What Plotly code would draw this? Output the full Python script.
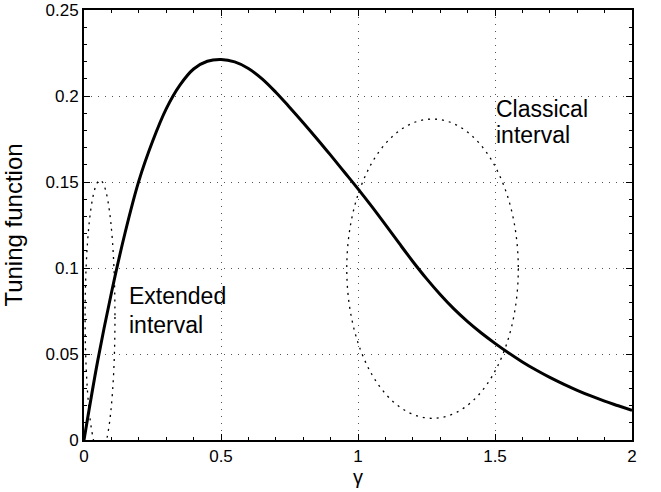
import plotly.graph_objects as go

# Tuning function curve
gamma = [0.00, 0.05, 0.10, 0.15, 0.20, 0.25, 0.30, 0.35, 0.40, 0.45,
         0.50, 0.55, 0.60, 0.65, 0.70, 0.75, 0.80, 0.85, 0.90, 0.95,
         1.00, 1.05, 1.10, 1.15, 1.20, 1.25, 1.30, 1.35, 1.40, 1.45,
         1.50, 1.55, 1.60, 1.65, 1.70, 1.75, 1.80, 1.85, 1.90, 1.95, 2.00]
tuning = [0.0000, 0.0460, 0.0855, 0.1205, 0.1505, 0.1735, 0.1925, 0.2063, 0.2157, 0.2202,
          0.2212, 0.2198, 0.2160, 0.2100, 0.2022, 0.1935, 0.1845, 0.1752, 0.1656, 0.1558,
          0.1460, 0.1358, 0.1252, 0.1144, 0.1038, 0.0938, 0.0846, 0.0762, 0.0688, 0.0622,
          0.0562, 0.0506, 0.0454, 0.0407, 0.0364, 0.0325, 0.0289, 0.0256, 0.0226, 0.0199, 0.0172]

# Ellipses marking intervals: [x0, x1, y0, y1]
extended_ellipse = [0.004, 0.113, -0.008, 0.151]
classical_ellipse = [0.959, 1.585, 0.0126, 0.1866]

x_ticks = [0, 0.5, 1, 1.5, 2]
x_tick_labels = ["0", "0.5", "1", "1.5", "2"]
y_ticks = [0, 0.05, 0.1, 0.15, 0.2, 0.25]
y_tick_labels = ["0", "0.05", "0.1", "0.15", "0.2", "0.25"]

FONT = "Liberation Sans, Arial, Helvetica, sans-serif"

fig = go.Figure()
fig.add_trace(go.Scatter(
    x=gamma, y=tuning, mode="lines",
    line=dict(color="black", width=3, shape="spline", smoothing=1.0),
    showlegend=False, hoverinfo="skip"))

for e in (extended_ellipse, classical_ellipse):
    fig.add_shape(type="circle", xref="x", yref="y",
                  x0=e[0], x1=e[1], y0=e[2], y1=e[3],
                  line=dict(color="black", width=1.3, dash="2px,5px"))

annots = [
    ("Extended", 0.158, 0.0837),
    ("interval", 0.158, 0.0669),
    ("Classical", 1.495, 0.1924),
    ("interval", 1.495, 0.1773),
]
for txt, ax_, ay_ in annots:
    fig.add_annotation(x=ax_, y=ay_, xref="x", yref="y", text=txt,
                       showarrow=False, xanchor="left", yanchor="middle",
                       font=dict(family=FONT, size=23, color="black"))

axis_common = dict(
    showline=True, linecolor="black", linewidth=2, mirror="ticks",
    ticks="inside", ticklen=6, tickcolor="black", tickwidth=1,
    showgrid=True, gridcolor="#555555", gridwidth=1, griddash="1px,6px",
    zeroline=False, automargin=False,
    tickfont=dict(family=FONT, size=17, color="black"),
    minor=dict(ticks="inside", ticklen=3, tickcolor="black", showgrid=False),
)

fig.update_xaxes(range=[0, 2], tickvals=x_ticks, ticktext=x_tick_labels,
                 title=dict(text="γ", font=dict(family=FONT, size=20, color="black"),
                            standoff=3),
                 **axis_common)
fig.update_yaxes(range=[0, 0.25], tickvals=y_ticks, ticktext=y_tick_labels,
                 title=dict(text="Tuning function",
                            font=dict(family=FONT, size=24, color="black"),
                            standoff=20),
                 **axis_common)
fig.update_xaxes(minor_dtick=0.1)
fig.update_yaxes(minor_dtick=0.01)

fig.update_layout(
    width=661, height=492,
    margin=dict(l=84, r=29, t=10, b=52),
    paper_bgcolor="white", plot_bgcolor="white",
    font=dict(family=FONT),
)

fig.write_html("out.html",
               config={"displayModeBar": False},
               post_script="document.body.style.margin='0px';"
                           "document.body.style.overflow='hidden';")
